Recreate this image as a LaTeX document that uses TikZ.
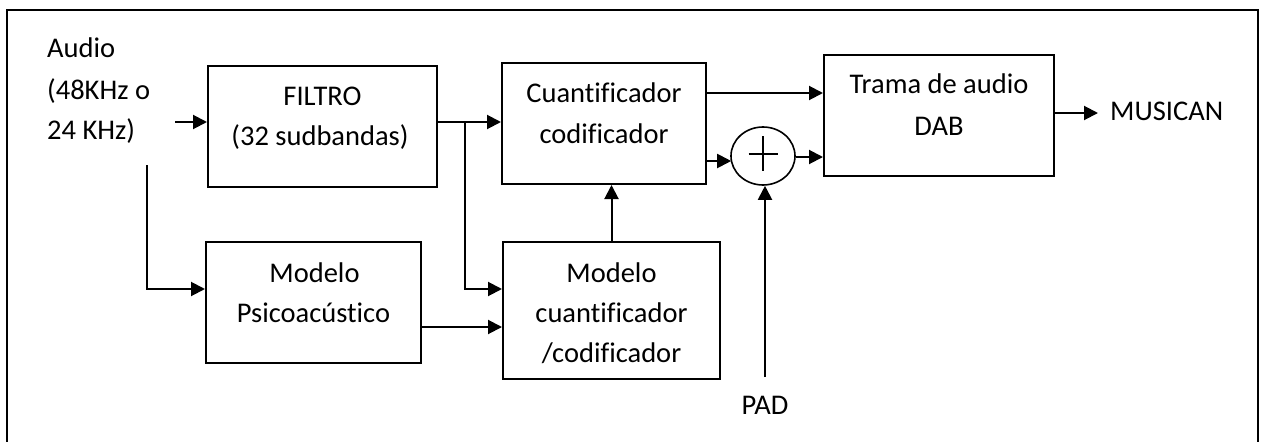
\documentclass[tikz,border=0pt]{standalone}
\usepackage{fontspec}
\setmainfont{Carlito}[RawFeature={-liga;-clig;-dlig;-calt}]
\usetikzlibrary{arrows.meta,shapes.geometric}
\begin{document}
\begin{tikzpicture}[x=1pt,y=-1pt,
  box/.style={draw,line width=2pt,inner sep=0pt},
  txt/.style={anchor=base,inner sep=0pt,font=\fontsize{28.5}{41}\selectfont},
  ltxt/.style={anchor=base west,inner sep=0pt,font=\fontsize{28.5}{41}\selectfont},
  arr/.style={line width=2pt,-{Triangle[length=14pt,width=14pt]}}]
\useasboundingbox (0,0) rectangle (1262,442);
\draw[line width=2.5pt] (7,442) -- (7,10) -- (1258,10) -- (1258,442);

% boxes
\node[box,minimum width=229pt,minimum height=121pt] (filtro) at (322.5,126.5) {};
\node[box,minimum width=215pt,minimum height=121pt] (psico) at (313.5,302.5) {};
\node[box,minimum width=204pt,minimum height=121pt] (cuant) at (604,123.5) {};
\node[box,minimum width=217pt,minimum height=137pt] (mcuant) at (611.5,310.5) {};
\node[box,minimum width=230pt,minimum height=121pt] (trama) at (939,115.5) {};
\node[draw,line width=1.6pt,ellipse,inner sep=0pt,minimum width=64pt,minimum height=58pt] (suma) at (763,156) {};
\draw[line width=1.3pt] ([xshift=-14.5pt,yshift=2pt]suma.center) -- ([xshift=14.5pt,yshift=2pt]suma.center);
\draw[line width=1.3pt] ([yshift=20pt]suma.center) -- ([yshift=-15pt]suma.center);

% texts
\node[ltxt] (a1) at (47,57) {Audio};
\node[ltxt] (a2) at (47,99) {(48KHz o};
\node[ltxt] (a3) at (47,139) {24 KHz)};
\node[txt] (f1) at (322.5,105) {FILTRO};
\node[txt] (f2) at (320,145) {(32 sudbandas)};
\node[txt] (p1) at (314.5,282) {Modelo};
\node[txt] (p2) at (313.5,322) {Psicoacústico};
\node[txt] (c1) at (604,102) {Cuantificador};
\node[txt] (c2) at (604,143) {codificador};
\node[txt] (m1) at (611.5,282) {Modelo};
\node[txt] (m2) at (611.5,322) {cuantificador};
\node[txt] (m3) at (611.5,362) {/codificador};
\node[txt] (t1) at (939,93) {Trama de audio};
\node[txt] (t2) at (939,135) {DAB};
\node[txt] (pad) at (765,414) {PAD};
\node[ltxt] (mus) at (1110,120) {MUSICAN};

% helper coordinates
\coordinate (r122) at (0,122);
\coordinate (r289) at (0,289);
\coordinate (r327) at (0,327);
\coordinate (r93) at (0,93);
\coordinate (r161) at (0,161);
\coordinate (r157) at (0,157);
\coordinate (r113) at (0,113);
\coordinate (ain) at (175,122);
\coordinate (adown) at (147,165);
\coordinate (branch) at (465,122);
\coordinate (padin) at (765,377);
\coordinate (mout) at (1098,113);

% connectors
\draw[arr] (ain) -- (filtro.west |- r122);
\draw[arr] (adown) |- (psico.west |- r289);
\draw[arr] (filtro.east |- r122) -- (cuant.west |- r122);
\draw[arr] (branch) |- (mcuant.west |- r289);
\draw[arr] (psico.east |- r327) -- (mcuant.west |- r327);
\draw[arr] (mcuant.north) -- (cuant.south -| mcuant.north);
\draw[arr] (cuant.east |- r93) -- (trama.west |- r93);
\draw[arr] (cuant.east |- r161) -- ([xshift=1pt]suma.west |- r161);
\draw[arr] (suma.east |- r157) -- (trama.west |- r157);
\draw[arr] (padin) -- (padin |- suma.south);
\draw[arr] (trama.east |- r113) -- (mout);
\end{tikzpicture}
\end{document}
